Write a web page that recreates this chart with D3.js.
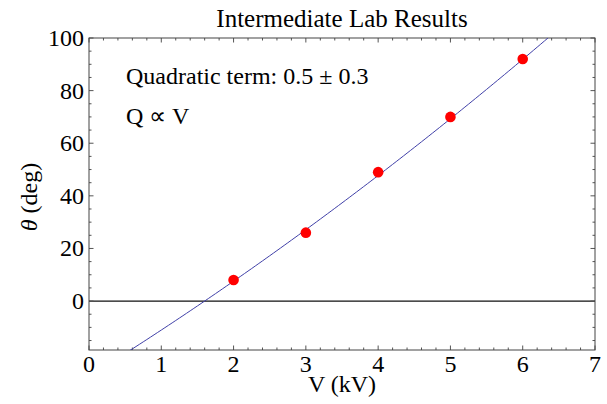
<!DOCTYPE html>
<html>
<head>
<meta charset="utf-8">
<script src="https://cdn.jsdelivr.net/npm/d3@7"></script>
<style>
  body { margin: 0; background: #fff; }
  svg { display: block; font-family: "Liberation Serif", "Times New Roman", serif; }
</style>
</head>
<body>
<div id="graph"></div>
<script>
// measured points
const voltages = [2, 3, 4, 5, 6];
const angles = [8, 26, 49, 70, 92];

// fitted curve theta = a + b V + c V^2
const fitConst = -28.6;
const fitLinear = 17.08;
const fitQuadratic = 0.5;

const xTicks = [0, 1, 2, 3, 4, 5, 6, 7];
const yTicks = [0, 20, 40, 60, 80, 100];

const titleText = "Intermediate Lab Results";
const noteLines = ["Quadratic term: 0.5 \u00b1 0.3", "Q \u221d V"];

// set the dimensions and margins of the graph
const margin = { top: 38, right: 12, bottom: 54, left: 89 },
  width = 607 - margin.left - margin.right,
  height = 404 - margin.top - margin.bottom;

const svg = d3.select("#graph")
  .append("svg")
  .attr("width", 607)
  .attr("height", 404);

const g = svg.append("g")
  .attr("transform", "translate(" + margin.left + "," + margin.top + ")");

const x = d3.scaleLinear().domain([0, 7]).range([0, width]);
const y = d3.scaleLinear().domain([-18.6, 100]).range([height, 0]);

// clip for the fit line
g.append("clipPath").attr("id", "clip")
  .append("rect").attr("width", width).attr("height", height);

// zero line
g.append("line")
  .attr("x1", 0).attr("x2", width)
  .attr("y1", y(0)).attr("y2", y(0))
  .attr("stroke", "#111").attr("stroke-width", 1.2);

// minor / major ticks on all four sides, pointing inward
const xMinor = d3.range(0, 7.001, 0.2).filter(v => Math.abs(v - Math.round(v)) > 1e-6);
const yMinor = d3.range(-15, 100, 5).filter(v => v % 20 !== 0);

const tickCol = "#555";
function vTicks(vals, len, yy, dir) {
  g.selectAll(null).data(vals).enter().append("line")
    .attr("x1", d => x(d)).attr("x2", d => x(d))
    .attr("y1", yy).attr("y2", yy + dir * len)
    .attr("stroke", tickCol).attr("stroke-width", 1);
}
function hTicks(vals, len, xx, dir) {
  g.selectAll(null).data(vals).enter().append("line")
    .attr("y1", d => y(d)).attr("y2", d => y(d))
    .attr("x1", xx).attr("x2", xx + dir * len)
    .attr("stroke", tickCol).attr("stroke-width", 1);
}
vTicks(xTicks, 4.5, height, -1);
vTicks(xMinor, 2.5, height, -1);
vTicks(xTicks, 4.5, 0, 1);
vTicks(xMinor, 2.5, 0, 1);
hTicks(yTicks, 4.5, 0, 1);
hTicks(yMinor, 2.5, 0, 1);
hTicks(yTicks, 4.5, width, -1);
hTicks(yMinor, 2.5, width, -1);

// frame
g.append("rect")
  .attr("width", width).attr("height", height)
  .attr("fill", "none").attr("stroke", "#444").attr("stroke-width", 1);

// fit curve
const fitLine = d3.line()
  .x(v => x(v))
  .y(v => y(fitConst + fitLinear * v + fitQuadratic * v * v));
g.append("path")
  .datum(d3.range(0, 7.01, 0.05))
  .attr("clip-path", "url(#clip)")
  .attr("d", fitLine)
  .attr("fill", "none")
  .attr("stroke", "#4040a8")
  .attr("stroke-width", 1);

// data points
g.selectAll("mypoints")
  .data(voltages)
  .enter()
  .append("circle")
  .attr("cx", d => x(d))
  .attr("cy", (d, i) => y(angles[i]))
  .attr("r", 5.3)
  .attr("fill", "#ff0000");

// tick labels
g.selectAll("xlabels").data(xTicks).enter().append("text")
  .attr("x", d => x(d)).attr("y", height + 22)
  .attr("text-anchor", "middle")
  .style("font-size", "24px")
  .text(d => d);

g.selectAll("ylabels").data(yTicks).enter().append("text")
  .attr("x", -5).attr("y", d => y(d) + 8)
  .attr("text-anchor", "end")
  .style("font-size", "24px")
  .text(d => d);

// title
svg.append("text")
  .attr("x", margin.left + width / 2).attr("y", 27)
  .attr("text-anchor", "middle")
  .style("font-size", "25px")
  .text(titleText);

// axis labels
svg.append("text")
  .attr("x", margin.left + width / 2).attr("y", 392)
  .attr("text-anchor", "middle")
  .style("font-size", "24px")
  .text("V (kV)");

const yl = svg.append("text")
  .attr("transform", "translate(37,197) rotate(-90)")
  .attr("text-anchor", "middle")
  .style("font-size", "24px");
yl.append("tspan").style("font-style", "italic").text("\u03b8");
yl.append("tspan").text(" (deg)");

// notes inside the plot
svg.selectAll("notes").data(noteLines).enter().append("text")
  .attr("x", 126)
  .attr("y", (d, i) => 84 + i * 40)
  .style("font-size", "24px")
  .text(d => d);
</script>
</body>
</html>
